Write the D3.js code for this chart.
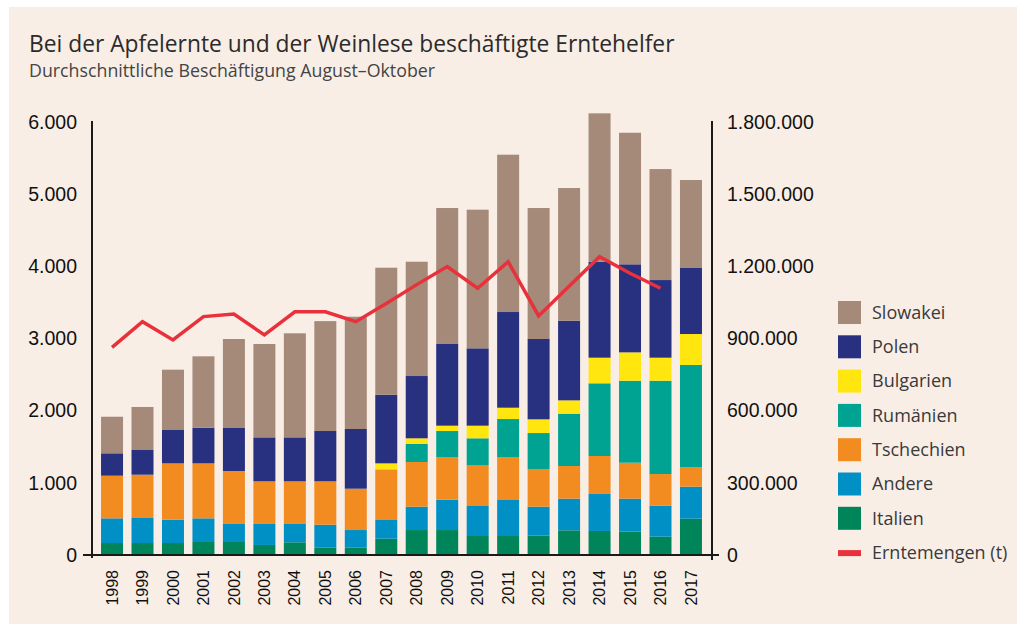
<!DOCTYPE html>
<html>
<head>
<meta charset="utf-8">
<script src="https://cdn.jsdelivr.net/npm/d3@7"></script>
<style>
  body { margin: 0; background: #fff; }
  svg { display: block; }
</style>
</head>
<body>
<script>
"use strict";

// Jahre und Serien (Beschäftigte, Durchschnitt Aug-Okt)
const years = ["1998","1999","2000","2001","2002","2003","2004","2005","2006","2007",
               "2008","2009","2010","2011","2012","2013","2014","2015","2016","2017"];
const italien    = [166,166,166,180,180,139,176,101,101,226,346,346,263,263,268,342,333,323,254,503];
const andere     = [342,347,324,328,250,291,254,319,245,259,324,421,416,499,402,439,512,458,430,444];
const tschechien = [591,600,780,762,734,591,591,601,573,702,619,591,568,596,522,452,527,498,438,268];
const rumaenien  = [0,0,0,0,0,0,0,0,0,0,249,360,370,526,498,725,1007,1136,1293,1418];
const bulgarien  = [0,0,0,0,0,0,0,0,0,83,79,74,175,157,190,185,355,393,319,429];
const polen      = [310,342,462,494,596,609,609,697,827,951,863,1132,1072,1326,1113,1104,1330,1220,1076,915];
const slowakei   = [507,596,836,989,1233,1294,1442,1523,1556,1760,1584,1884,1921,2180,1815,1838,2056,1823,1538,1219];
// Erntemengen in Tonnen (2017 ohne Wert)
const erntemengen = [863000,970000,894000,991000,1002000,915000,1011000,1011000,970000,1046000,
                     1124000,1199000,1109000,1219000,994000,1117000,1240000,1171000,1109000,null];

const leftTicks  = [0,1000,2000,3000,4000,5000,6000];
const rightTicks = [0,300000,600000,900000,1200000,1500000,1800000];

const series = [
  {key: "Italien",    values: italien,    color: "#00855a"},
  {key: "Andere",     values: andere,     color: "#0090c6"},
  {key: "Tschechien", values: tschechien, color: "#f28c20"},
  {key: "Rumänien",   values: rumaenien,  color: "#00a291"},
  {key: "Bulgarien",  values: bulgarien,  color: "#ffe60f"},
  {key: "Polen",      values: polen,      color: "#283080"},
  {key: "Slowakei",   values: slowakei,   color: "#a58a7a"}
];
const lineColor = "#e8313b";

const W = 1017, H = 624;
const de = d3.formatLocale({decimal: ",", thousands: ".", grouping: [3], currency: ["", " €"]});
const fmt = de.format(",d");

const svg = d3.select("body").append("svg")
  .attr("width", W).attr("height", H)
  .attr("viewBox", `0 0 ${W} ${H}`);

svg.append("rect")
  .attr("x", 9).attr("y", 7).attr("width", W - 9).attr("height", H - 7)
  .attr("fill", "#f8eee6");

svg.append("text")
  .attr("x", 29).attr("y", 52)
  .attr("font-family", "'Open Sans', sans-serif")
  .attr("font-size", 22.8)
  .attr("fill", "#2b2b2b")
  .text("Bei der Apfelernte und der Weinlese beschäftigte Erntehelfer");

svg.append("text")
  .attr("x", 29).attr("y", 77)
  .attr("font-family", "'Open Sans', sans-serif")
  .attr("font-size", 17.8)
  .attr("fill", "#444")
  .text("Durchschnittliche Beschäftigung August–Oktober");

// scales
const x = d3.scaleBand().domain(years).range([96.8, 706.2]).paddingInner(0.278).paddingOuter(0.139);
const y = d3.scaleLinear().domain([0, 6000]).range([555, 122]);
const y2 = d3.scaleLinear().domain([0, 1800000]).range([555, 122]);

const table = years.map((yr, i) => {
  const row = {year: yr};
  series.forEach(s => row[s.key] = s.values[i]);
  return row;
});
const stacked = d3.stack().keys(series.map(s => s.key))(table);

svg.append("g")
  .selectAll("g")
  .data(stacked)
  .enter()
  .append("g")
  .attr("fill", (d, i) => series[i].color)
  .selectAll("rect")
  .data(d => d)
  .enter()
  .append("rect")
  .attr("x", d => x(d.data.year))
  .attr("width", x.bandwidth())
  .attr("y", d => y(d[1]))
  .attr("height", d => y(d[0]) - y(d[1]));

// axes
const axisFont = "'Liberation Sans', Arial, sans-serif";

const gl = svg.append("g")
  .attr("transform", "translate(92,0)")
  .call(d3.axisLeft(y).tickValues(leftTicks).tickFormat(fmt).tickSize(0).tickPadding(15));
gl.select(".domain").remove();
gl.selectAll("text").attr("font-family", axisFont).attr("font-size", 19.5).attr("fill", "#111");

const gr = svg.append("g")
  .attr("transform", "translate(712,0)")
  .call(d3.axisRight(y2).tickValues(rightTicks).tickFormat(fmt).tickSize(0).tickPadding(15));
gr.select(".domain").remove();
gr.selectAll("text").attr("font-family", axisFont).attr("font-size", 19.5).attr("fill", "#111");

const gb = svg.append("g")
  .attr("transform", "translate(0,555)")
  .call(d3.axisBottom(x).tickSize(0));
gb.select(".domain").remove();
gb.selectAll("text")
  .attr("font-family", axisFont)
  .attr("font-size", 16)
  .attr("fill", "#111")
  .attr("transform", "rotate(-90)")
  .attr("text-anchor", "end")
  .attr("x", -15)
  .attr("y", 0)
  .attr("dy", "0.35em");

const axisLines = svg.append("g").attr("stroke", "#1a1a1a").attr("stroke-width", 2);
axisLines.append("line").attr("x1", 92).attr("x2", 92).attr("y1", y(6000) - 1).attr("y2", y(0) + 3);
axisLines.append("line").attr("x1", 712).attr("x2", 712).attr("y1", y(6000) - 1).attr("y2", y(0) + 5);
axisLines.append("line").attr("x1", 83).attr("x2", 719).attr("y1", y(0)).attr("y2", y(0));

// Erntemengen
const line = d3.line()
  .defined(d => d != null)
  .x((d, i) => x(years[i]) + x.bandwidth() / 2)
  .y(d => y2(d));

svg.append("path")
  .datum(erntemengen)
  .attr("d", line)
  .attr("fill", "none")
  .attr("stroke", lineColor)
  .attr("stroke-width", 3.5)
  .attr("stroke-linejoin", "miter");

// legend
const legend = svg.append("g").attr("transform", "translate(838,301)");
const legendItems = series.slice().reverse();
legend.selectAll("rect")
  .data(legendItems)
  .enter()
  .append("rect")
  .attr("x", 0)
  .attr("y", (d, i) => i * 34.3)
  .attr("width", 23).attr("height", 23)
  .attr("fill", d => d.color);
legend.selectAll("text.item")
  .data(legendItems.map(d => d.key).concat(["Erntemengen (t)"]))
  .enter()
  .append("text")
  .attr("class", "item")
  .attr("x", 34)
  .attr("y", (d, i) => i * 34.3 + 11.5)
  .attr("dy", "0.35em")
  .attr("font-family", "'Open Sans', sans-serif")
  .attr("font-size", 18)
  .attr("fill", "#3a3a3a")
  .text(d => d);
legend.append("rect")
  .attr("x", 0).attr("y", 7 * 34.3 + 9)
  .attr("width", 23).attr("height", 6)
  .attr("fill", lineColor);
</script>
</body>
</html>
